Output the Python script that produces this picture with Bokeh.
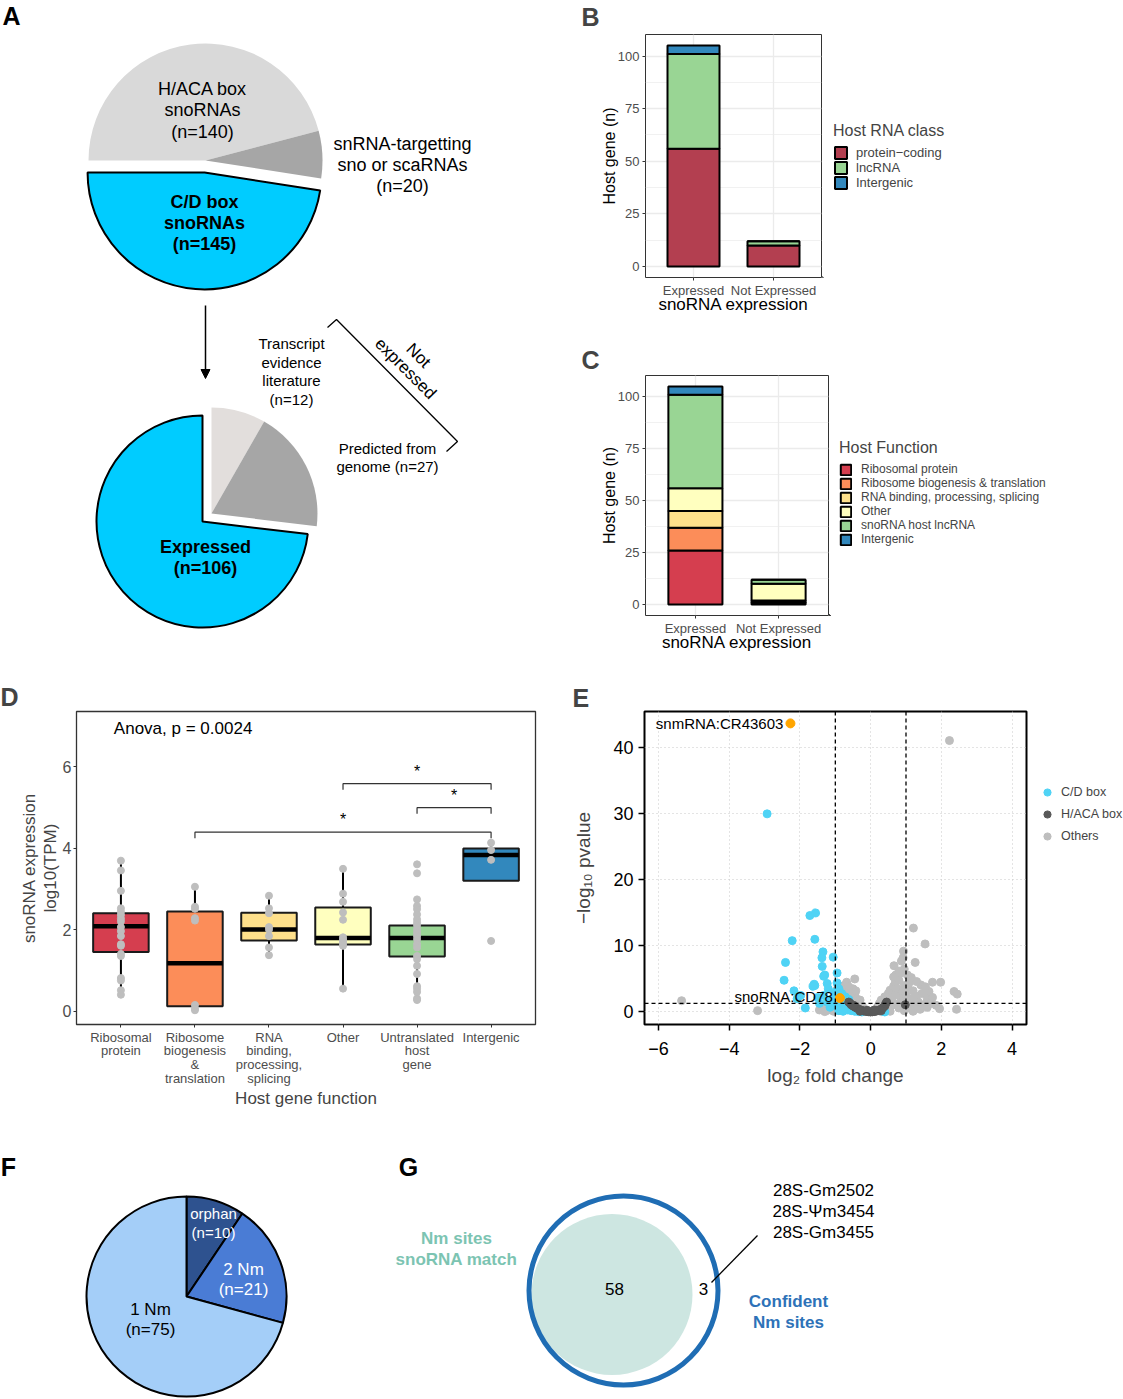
import math
from bokeh.plotting import figure
from bokeh.layouts import column, row
from bokeh.models import Range1d, Label, Legend, LegendItem, FixedTicker, Span, Arrow, NormalHead
from bokeh.embed import file_html
from bokeh.resources import INLINE

FONT = "Liberation Sans"

# ---------------- DATA ----------------
# A: snoRNA classes (top pie) and expression (bottom pie)
a_top_names = ["H/ACA box snoRNAs", "snRNA-targetting sno or scaRNAs", "C/D box snoRNAs"]
a_top_counts = [140, 20, 145]
a_bot_names = ["Transcript evidence literature", "Predicted from genome", "Expressed"]
a_bot_counts = [12, 27, 106]

# B: host RNA class
expr_cats = ["Expressed", "Not Expressed"]
rna_classes = ["protein\u2212coding", "lncRNA", "Intergenic"]
b_protein = [56, 10]
b_lncrna = [45, 2]
b_interg = [4, 0]

# C: host function
host_functions = ["Ribosomal protein", "Ribosome biogenesis & translation",
                  "RNA binding, processing, splicing", "Other", "snoRNA host lncRNA", "Intergenic"]
c_ribo = [26, 1]
c_biogen = [11, 0]
c_rnabind = [8, 1]
c_other = [11, 8]
c_lnc = [45, 2]
c_interg = [4, 0]

# D: box plots of snoRNA expression by host gene function
d_cats = ["Ribosomal\nprotein", "Ribosome\nbiogenesis\n&\ntranslation", "RNA\nbinding,\nprocessing,\nsplicing",
          "Other", "Untranslated\nhost\ngene", "Intergenic"]
d_q1 = [1.45, 0.12, 1.73, 1.63, 1.34, 3.20]
d_med = [2.08, 1.17, 2.00, 1.79, 1.79, 3.83]
d_q3 = [2.40, 2.44, 2.41, 2.54, 2.10, 3.99]
d_lo = [0.40, 0.02, 1.35, 0.55, 0.30, 3.20]
d_hi = [3.70, 3.04, 2.84, 3.49, 2.76, 4.13]
d_pts_ribo = [3.69, 3.45, 2.95, 2.52, 2.44, 2.36, 2.27, 2.20, 2.06, 1.96, 1.84, 1.64, 1.60, 1.40, 1.35, 0.81, 0.75, 0.51, 0.40]
d_pts_biogen = [3.05, 2.56, 2.51, 2.28, 2.22, 0.15, 0.06, 0.02]
d_pts_rnabind = [2.83, 2.52, 2.40, 2.06, 2.00, 1.84, 1.56, 1.37]
d_pts_other = [3.49, 2.88, 2.68, 2.42, 2.24, 1.81, 1.76, 1.72, 1.66, 1.60, 0.55]
d_pts_untrans = [3.60, 3.38, 2.74, 2.58, 2.50, 2.37, 2.25, 2.17, 2.10, 2.00, 1.92, 1.84, 1.76, 1.64,
                 1.56, 1.35, 1.27, 1.11, 0.91, 0.61, 0.55, 0.47, 0.31, 0.27]
d_pts_interg = [4.13, 3.95, 3.71, 1.72]
d_cmp_from = [2, 5, 4]
d_cmp_to = [6, 6, 6]
d_cmp_y = [4.39, 4.99, 5.58]
d_cmp_sig = ["*", "*", "*"]
d_anova = "Anova, p = 0.0024"

# E: volcano plot
e_cd = [(-2.93, 30.0), (-1.72, 14.6), (-1.56, 15.0), (-2.22, 10.8), (-1.58, 11.0), (-2.41, 7.5),
        (-1.35, 9.1), (-1.06, 8.3), (-1.38, 8.2), (-1.37, 6.9), (-1.30, 5.6), (-1.33, 5.4),
        (-2.45, 4.8), (-1.60, 4.2), (-1.58, 4.0), (-1.23, 4.3), (-0.95, 5.9), (-2.17, 3.2),
        (-1.98, 2.5), (-1.63, 3.9), (-1.85, 0.6), (-2.08, 2.0), (-1.33, 2.5), (-0.95, 4.4),
        (-1.23, 1.5), (-1.10, 2.0), (-1.00, 3.0), (-0.90, 3.5), (-0.95, 2.6), (-0.85, 1.2),
        (-0.80, 0.8), (-0.75, 0.5), (-0.70, 1.6), (-0.65, 0.3), (-0.60, 0.9), (-0.55, 0.2),
        (-0.50, 0.5), (-0.45, 0.1), (-0.40, 0.3), (-0.35, 0.05), (-0.30, 0.15), (-0.25, 0.0),
        (-1.05, 1.0), (-1.15, 0.7), (-0.90, 0.2), (0.40, 0.0), (0.35, 0.1), (-1.20, 3.5),
        (-1.45, 1.3), (-1.50, 2.2), (-0.72, 2.3), (-0.62, 1.9), (-0.82, 2.8), (-0.78, 0.1)]
e_haca = [(-0.62, 1.5), (-0.58, 1.3), (-0.55, 1.1), (-0.50, 0.9), (-0.45, 0.75), (-0.40, 0.6),
          (-0.35, 0.45), (-0.30, 0.35), (-0.25, 0.25), (-0.20, 0.15), (-0.15, 0.1), (-0.10, 0.05),
          (-0.05, 0.02), (0.00, 0.0), (0.05, 0.02), (0.10, 0.06), (0.15, 0.12), (0.20, 0.2),
          (0.25, 0.3), (0.30, 0.45), (0.35, 0.65), (0.40, 0.9), (0.42, 1.2), (0.45, 1.5),
          (0.98, 1.1), (-0.48, 1.0), (0.30, 0.2), (-0.30, 0.1), (0.10, 0.3), (-0.10, 0.25)]
e_others = [(-5.35, 1.7), (-3.20, 0.2), (-0.45, 5.0), (2.23, 41.1), (1.21, 12.7), (1.54, 10.3),
            (0.93, 9.2), (0.87, 7.7), (1.26, 7.5), (0.66, 7.0), (0.85, 5.9), (0.71, 5.6),
            (1.04, 5.6), (1.75, 4.5), (1.98, 4.5), (2.36, 3.1), (2.45, 2.7), (2.43, 0.4),
            (1.42, 4.1), (1.65, 3.1), (-1.45, 0.3), (-1.35, 0.6), (-1.25, 0.2), (-1.20, 0.9),
            (-1.10, 0.4), (-1.05, 0.1), (-0.98, 0.7), (-0.90, 1.8), (-0.80, 2.5), (-0.70, 3.0),
            (-0.62, 2.2), (-0.55, 1.5), (-0.50, 3.5), (-0.45, 2.8), (-0.40, 2.0), (-0.35, 1.2),
            (-0.30, 1.8), (-0.25, 0.9), (-0.20, 0.6), (-0.75, 4.0), (-0.68, 4.5), (-0.62, 3.8),
            (-0.88, 0.4), (-0.95, 3.4), (-0.72, 1.1), (-0.58, 2.9), (-0.42, 3.2), (-1.30, 0.05),
            (-0.15, 0.3), (0.15, 0.3), (0.20, 0.8), (0.25, 1.3), (0.30, 1.8), (0.35, 0.5),
            (0.40, 2.3), (0.45, 1.5), (0.50, 2.8), (0.50, 0.4), (0.55, 3.3), (0.60, 2.0),
            (0.60, 1.0), (0.65, 3.9), (0.70, 4.5), (0.70, 2.6), (0.75, 1.2), (0.75, 3.5),
            (0.80, 0.6), (0.80, 4.8), (0.85, 2.2), (0.90, 3.1), (0.90, 1.6), (0.95, 4.0),
            (1.00, 0.5), (1.00, 2.6), (1.05, 3.7), (1.10, 1.2), (1.10, 4.5), (1.15, 2.0),
            (1.20, 3.2), (1.25, 0.8), (1.30, 2.4), (1.30, 4.6), (1.35, 1.5), (1.40, 0.4),
            (1.45, 2.8), (1.50, 1.1), (1.55, 3.8), (1.60, 0.7), (1.60, 2.0), (1.70, 1.3),
            (0.95, 0.2), (1.20, 0.1), (0.55, 0.1), (0.30, 0.05), (0.92, 8.2), (0.95, 6.5),
            (0.80, 6.2), (1.15, 5.2), (0.65, 5.3), (1.85, 1.0), (1.95, 0.5), (1.75, 2.2)]
e_classes = ["C/D box", "H/ACA box", "Others"]
e_hl_names = ["snmRNA:CR43603", "snoRNA:CD78"]
e_hl_x = [-2.27, -0.87]
e_hl_y = [43.7, 2.1]
e_fc_cut = [-1, 1]
e_p_cut = 1.301

# F: Nm per snoRNA
f_names = ["orphan", "2 Nm", "1 Nm"]
f_counts = [10, 21, 75]

# G: Venn
g_match = 58
g_extra = 3
g_extra_sites = ["28S-Gm2502", "28S-\u03a8m3454", "28S-Gm3455"]

# ---------------- HELPERS ----------------
def blank(w, h, top=0, bottom=0):
    p = figure(width=w, height=h, x_range=Range1d(0, w), y_range=Range1d(0, h - top - bottom),
               x_axis_location=None, y_axis_location=None, output_backend="svg",
               toolbar_location=None, tools="", min_border=0, min_border_top=top, min_border_bottom=bottom)
    p.grid.visible = False
    p.outline_line_color = None
    return p

def txt(p, x, y, text, size, color="black", bold=False, align="center", baseline="middle",
        angle=0.0, units="data"):
    p.add_layout(Label(x=x, y=y, x_units=units, y_units=units, text=text, text_font=FONT,
                       text_font_size=f"{size}px", text_color=color,
                       text_font_style="bold" if bold else "normal",
                       text_align=align, text_baseline=baseline, angle=angle))

def txt_lines(p, x, y, lines, size, lh, **kw):
    for i, t in enumerate(lines):
        txt(p, x, y - i * lh, t, size, **kw)

def pie(p, cx, cy, r, counts, colors, lcolors, start_deg, offsets):
    total = float(sum(counts))
    a = start_deg
    for c, col, lc, (dx, dy) in zip(counts, colors, lcolors, offsets):
        sweep = c / total * 360.0
        a1 = a - sweep
        p.wedge(x=cx + dx, y=cy + dy, radius=r, start_angle=math.radians(a1), end_angle=math.radians(a),
                fill_color=col, line_color=lc, line_width=2)
        a = a1

LETTER_SIZE = 25

def letter(p, x, y, t):
    txt(p, x, y, t, LETTER_SIZE, bold=True)

def title_letter(p, t, offset, standoff, valign="bottom"):
    p.title.text = t
    p.title.text_font = FONT
    p.title.text_font_size = f"{LETTER_SIZE}px"
    p.title.text_font_style = "bold"
    p.title.align = "left"
    p.title.offset = offset
    p.title.standoff = standoff
    p.title.vertical_align = valign

def legend_common(**kw):
    base = dict(spacing=0, padding=0, margin=0, border_line_color=None, background_fill_alpha=0,
                label_text_font=FONT, title_text_font=FONT, title_text_font_style="normal")
    base.update(kw)
    return base

OUT = [-1000]  # legend swatch renderers sit far outside the visible range of their legend canvas

# ---------------- PANEL A ----------------
pA = blank(560, 680)
letter(pA, 11, 665, "A")
tot = sum(a_top_counts)
cd_mid = 180 - (a_top_counts[0] + a_top_counts[1] + a_top_counts[2] / 2) / tot * 360
off = 12
top_off = [(0, 0), (0, 0), (off * math.cos(math.radians(cd_mid)), off * math.sin(math.radians(cd_mid)))]
pie(pA, 205, 520, 117, a_top_counts, ["#D9D9D9", "#A6A6A6", "#00CCFF"], [None, None, "black"], 180, top_off)
txt_lines(pA, 202, 592, ["H/ACA box", "snoRNAs", "(n=%d)" % a_top_counts[0]], 18, 21.5)
txt_lines(pA, 402, 537, ["snRNA-targetting", "sno or scaRNAs", "(n=%d)" % a_top_counts[1]], 18, 21)
txt_lines(pA, 204, 479, ["C/D box", "snoRNAs", "(n=%d)" % a_top_counts[2]], 18, 21, bold=True)
pA.add_layout(Arrow(end=NormalHead(size=9, fill_color="black", line_color="black"),
                    x_start=205, y_start=375, x_end=205, y_end=302, line_width=1.5, line_color="black"))
totb = sum(a_bot_counts)
grp_mid = 90 - (a_bot_counts[0] + a_bot_counts[1]) / 2 / totb * 360
go = (off * math.cos(math.radians(grp_mid)), off * math.sin(math.radians(grp_mid)))
pie(pA, 202, 159, 106, a_bot_counts, ["#E2DEDC", "#A6A6A6", "#00CCFF"], [None, None, "black"], 90,
    [go, go, (0, 0)])
txt_lines(pA, 291, 337, ["Transcript", "evidence", "literature", "(n=%d)" % a_bot_counts[0]], 15, 18.5)
txt_lines(pA, 387, 232, ["Predicted from", "genome (n=%d)" % a_bot_counts[1]], 15, 18)
txt_lines(pA, 205, 134, ["Expressed", "(n=%d)" % a_bot_counts[2]], 18, 21, bold=True)
pA.line(x=[327, 336, 457, 446], y=[353, 361, 239, 229], line_color="black", line_width=1.3)
txt(pA, 418, 325, "Not", 17, angle=-math.pi / 4)
txt(pA, 405, 312, "expressed", 17, angle=-math.pi / 4)

# ---------------- PANELS B / C ----------------
def bar_panel(h_top, h_bot, frame_w, ylab, xlab, groups, names, colors, leg_title, leg_loc, glyph, standoff,
              lab_size, let, let_valign):
    W, H = 563, 340
    main_w = 85 + frame_w + 1
    p = figure(width=main_w, height=H, x_range=Range1d(0.4, 2.6), y_range=Range1d(-5.25, 110.25),
               min_border_left=85, min_border_right=1, min_border_top=h_top,
               min_border_bottom=h_bot, output_backend="svg", toolbar_location=None, tools="")
    xs = [i + 1 for i in range(len(expr_cats))]
    bottom = [0] * len(xs)
    for vals, col in zip(groups, colors):
        top = [b + v for b, v in zip(bottom, vals)]
        p.vbar(x=xs, width=0.65, bottom=bottom, top=top, fill_color=col, line_color="black", line_width=2)
        bottom = top
    yt = FixedTicker(ticks=[0, 25, 50, 75, 100], minor_ticks=[12.5, 37.5, 62.5, 87.5])
    xt = FixedTicker(ticks=xs)
    p.yaxis.ticker = yt
    p.ygrid.ticker = yt
    p.xaxis.ticker = xt
    p.xgrid.ticker = xt
    p.xaxis.major_label_overrides = {x: c for x, c in zip(xs, expr_cats)}
    p.grid.grid_line_color = "#EBEBEB"
    p.grid.grid_line_width = 1.3
    p.ygrid.minor_grid_line_color = "#EBEBEB"
    p.ygrid.minor_grid_line_width = 0.7
    p.outline_line_color = "#333333"
    p.outline_line_width = 1
    for ax in p.axis:
        ax.axis_line_color = None
        ax.major_tick_line_color = "#333333"
        ax.major_tick_out = 3
        ax.major_tick_in = 0
        ax.minor_tick_line_color = None
        ax.major_label_text_font = FONT
        ax.major_label_text_font_size = "13px"
        ax.major_label_text_color = "#4D4D4D"
        ax.major_label_text_line_height = 1.0
        ax.major_label_standoff = 2
        ax.axis_label_text_font = FONT
        ax.axis_label_text_font_style = "normal"
        ax.axis_label_text_color = "black"
        ax.axis_label_text_line_height = 1.0
    p.yaxis.axis_label = ylab
    p.yaxis.axis_label_text_font_size = "16px"
    p.yaxis.axis_label_standoff = -3
    p.xaxis.axis_label = xlab
    p.xaxis.axis_label_text_font_size = "17px"
    p.xaxis.axis_label_standoff = -6
    title_letter(p, let, -64, 4, let_valign)
    # legend in its own canvas to the right
    pl = blank(W - main_w, H, h_top, h_bot)
    rends = [pl.vbar(x=OUT, width=1, bottom=OUT, top=[OUT[0] + 1], fill_color=col, line_color="black",
                     line_width=2) for col in colors]
    leg = Legend(items=[LegendItem(label=n, renderers=[r]) for n, r in zip(names, rends)],
                 location=leg_loc, title=leg_title,
                 **legend_common(title_text_font_size="16px", title_standoff=5, label_text_font_size=lab_size,
                                 glyph_width=glyph, glyph_height=glyph, label_standoff=standoff,
                                 label_height=glyph))
    pl.add_layout(leg)
    return row(p, pl)

pB = bar_panel(34, 63, 176, "Host gene (n)", "snoRNA expression", [b_protein, b_lncrna, b_interg],
               rna_classes, ["#B33F50", "#99D594", "#3288BD"], "Host RNA class", (11, 87), 15, 8,
               "13px", "B", "top")
pC = bar_panel(35, 65, 183, "Host gene (n)", "snoRNA expression",
               [c_ribo, c_biogen, c_rnabind, c_other, c_lnc, c_interg], host_functions,
               ["#D53E4F", "#FC8D59", "#FEE08B", "#FFFFBF", "#99D594", "#3288BD"],
               "Host Function", (10, 69), 13, 9, "12px", "C", "bottom")

# ---------------- PANEL D ----------------
pD = figure(width=560, height=430, x_range=Range1d(0.4, 6.6), y_range=Range1d(-0.33, 7.35),
            min_border_left=76, min_border_right=25, min_border_top=30, min_border_bottom=82,
            output_backend="svg", toolbar_location=None, tools="")
d_colors = ["#D53E4F", "#FC8D59", "#FEE08B", "#FFFFBF", "#99D594", "#3288BD"]
dx = [i + 1 for i in range(len(d_cats))]
pD.segment(x0=dx, y0=d_lo, x1=dx, y1=d_hi, line_color="black", line_width=2)
pD.vbar(x=dx, width=0.75, bottom=d_q1, top=d_q3, fill_color=d_colors, line_color="#1A1A1A", line_width=2)
pD.segment(x0=[x - 0.375 for x in dx], y0=d_med, x1=[x + 0.375 for x in dx], y1=d_med,
           line_color="black", line_width=4.5, line_cap="butt")
for x, pts in zip(dx, [d_pts_ribo, d_pts_biogen, d_pts_rnabind, d_pts_other, d_pts_untrans, d_pts_interg]):
    pD.scatter(x=[x] * len(pts), y=pts, size=7, color="#BEBEBE")
for a, b, y, s in zip(d_cmp_from, d_cmp_to, d_cmp_y, d_cmp_sig):
    pD.line(x=[a, a, b, b], y=[y - 0.15, y, y, y - 0.15], line_color="#333333", line_width=1.2)
    txt(pD, (a + b) / 2, y + 0.3, s, 16)
txt(pD, 1.84, 6.94, d_anova, 17)
dtx = FixedTicker(ticks=dx)
dty = FixedTicker(ticks=[0, 2, 4, 6])
pD.xaxis.ticker = dtx
pD.yaxis.ticker = dty
pD.grid.visible = False
pD.xaxis.major_label_overrides = {x: c for x, c in zip(dx, d_cats)}
pD.outline_line_color = "#333333"
pD.outline_line_width = 1.3
for ax in pD.axis:
    ax.axis_line_color = None
    ax.major_tick_line_color = "#333333"
    ax.major_tick_out = 3
    ax.major_tick_in = 0
    ax.minor_tick_line_color = None
    ax.major_label_text_font = FONT
    ax.major_label_text_color = "#4D4D4D"
    ax.major_label_standoff = 2
    ax.axis_label_text_font = FONT
    ax.axis_label_text_font_style = "normal"
    ax.axis_label_text_font_size = "17px"
    ax.axis_label_text_line_height = 1.1
pD.xaxis.major_label_text_line_height = 0.92
pD.yaxis.major_label_text_font_size = "16px"
pD.xaxis.major_label_text_font_size = "13px"
pD.yaxis.axis_label = "snoRNA expression\nlog10(TPM)"
pD.yaxis.axis_label_standoff = 0
pD.xaxis.axis_label = "Host gene function"
pD.xaxis.axis_label_standoff = 0
title_letter(pD, "D", -76, 1)

# ---------------- PANEL E ----------------
E_MAIN_W = 84 + 382 + 4
pE = figure(width=E_MAIN_W, height=430, x_range=Range1d(-6.4, 4.41), y_range=Range1d(-1.9, 45.5),
            min_border_left=84, min_border_right=4, min_border_top=30, min_border_bottom=82,
            output_backend="svg", toolbar_location=None, tools="")
etx = FixedTicker(ticks=[-6, -4, -2, 0, 2, 4])
ety = FixedTicker(ticks=[0, 10, 20, 30, 40])
pE.xaxis.ticker = etx
pE.xgrid.ticker = etx
pE.yaxis.ticker = ety
pE.ygrid.ticker = ety
pE.grid.grid_line_color = "#C8C8C8"
pE.grid.grid_line_dash = "1 3"
pE.grid.grid_line_width = 1
e_colors = ["#4FD3F5", "#595959", "#BEBEBE"]
pE.scatter(x=[p[0] for p in e_others], y=[p[1] for p in e_others], size=8, color=e_colors[2])
pE.scatter(x=[p[0] for p in e_cd], y=[p[1] for p in e_cd], size=8, color=e_colors[0])
pE.scatter(x=[p[0] for p in e_haca], y=[p[1] for p in e_haca], size=8, color=e_colors[1])
for c in e_fc_cut:
    pE.add_layout(Span(location=c, dimension="height", line_color="black", line_dash="4 3", line_width=1.3))
pE.add_layout(Span(location=e_p_cut, dimension="width", line_color="black", line_dash="4 3", line_width=1.3))
pE.scatter(x=e_hl_x, y=e_hl_y, size=9, color="#FFA500")
txt(pE, e_hl_x[0] - 0.2, e_hl_y[0], e_hl_names[0], 15, align="right")
txt(pE, e_hl_x[1] - 0.2, e_hl_y[1] + 0.2, e_hl_names[1], 15, align="right")
pE.outline_line_color = "black"
pE.outline_line_width = 2
for ax in pE.axis:
    ax.axis_line_color = None
    ax.major_tick_line_color = "black"
    ax.major_tick_line_width = 1.5
    ax.major_tick_out = 6
    ax.major_tick_in = 0
    ax.minor_tick_line_color = None
    ax.major_label_text_font = FONT
    ax.major_label_text_font_size = "18px"
    ax.major_label_text_color = "black"
    ax.axis_label_text_font = FONT
    ax.axis_label_text_font_style = "normal"
    ax.axis_label_text_font_size = "19px"
pE.xaxis.major_label_standoff = 11
pE.yaxis.major_label_standoff = 5
pE.xaxis.major_label_overrides = {-6: "\u22126", -4: "\u22124", -2: "\u22122"}
pE.xaxis.axis_label = "log\u2082 fold change"
pE.xaxis.axis_label_standoff = 7
pE.yaxis.axis_label = "\u2212log\u2081\u2080 pvalue"
pE.yaxis.axis_label_standoff = 16
title_letter(pE, "E", -72, 0)
pEl = blank(563 - E_MAIN_W, 430, 30, 82)
e_leg_r = [pEl.scatter(x=OUT, y=OUT, size=8, color=c) for c in e_colors]
legE = Legend(items=[LegendItem(label=n, renderers=[r]) for n, r in zip(e_classes, e_leg_r)],
              location=(8, 177),
              **legend_common(glyph_width=18, glyph_height=22, label_height=22, label_standoff=5,
                              label_text_font_size="12.5px"))
pEl.add_layout(legE)

# ---------------- PANEL F ----------------
pF = blank(380, 289)
letter(pF, 8, 233, "F")
pie(pF, 186, 103, 100, f_counts, ["#2E528F", "#4A7CD5", "#A4CEF8"], ["black", "black", "black"], 90,
    [(0, 0)] * 3)
txt_lines(pF, 213, 186, [f_names[0], "(n=%d)" % f_counts[0]], 15, 19, color="white")
txt_lines(pF, 243, 130, [f_names[1], "(n=%d)" % f_counts[1]], 17, 20, color="white")
txt_lines(pF, 150, 90, [f_names[2], "(n=%d)" % f_counts[2]], 17, 20)

# ---------------- PANEL G ----------------
pG = blank(743, 289)
letter(pG, 28, 233, "G")
pG.circle(x=[231.5], y=[105], radius=80.5, fill_color="#CDE6E1", line_color=None)
pG.circle(x=[243], y=[109], radius=94.5, fill_color=None, line_color="#1F6DB4", line_width=5)
txt(pG, 234, 111, str(g_match), 17)
txt(pG, 323, 111, str(g_extra), 17)
pG.line(x=[331, 377], y=[117, 164], line_color="black", line_width=1.3)
txt_lines(pG, 443, 209, g_extra_sites, 17, 21)
txt_lines(pG, 76, 161, ["Nm sites", "snoRNA match"], 17, 21, bold=True, color="#7CC4B2")
txt_lines(pG, 408, 98, ["Confident", "Nm sites"], 17, 21, bold=True, color="#2D72B8")

layout = column(row(pA, column(pB, pC)), row(pD, pE, pEl), row(pF, pG))
open("out.html", "w").write(file_html(layout, INLINE, title="snoRNA figure"))
